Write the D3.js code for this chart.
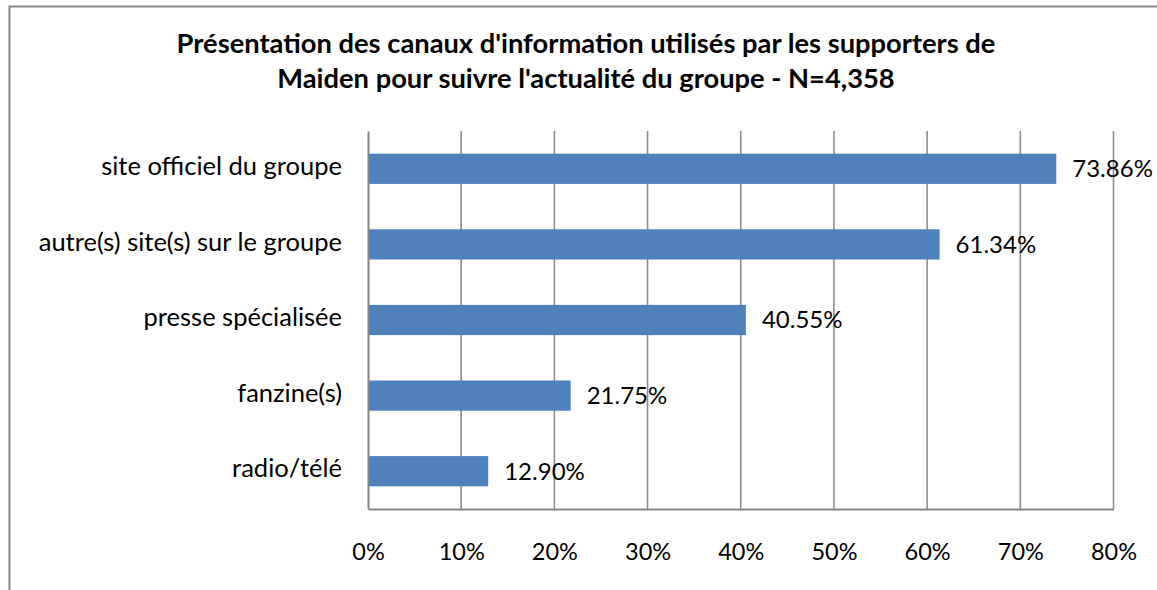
<!DOCTYPE html>
<html>
<head>
<meta charset="utf-8">
<script src="https://cdn.jsdelivr.net/npm/d3@7"></script>
<style>
  html, body { margin: 0; padding: 0; background: #fff; }
  svg { display: block; }
  text { font-family: Lato, "Open Sans", sans-serif; fill: #000; }
</style>
</head>
<body>
<svg id="chart" width="1157" height="590"></svg>
<script>
const categories = ["site officiel du groupe", "autre(s) site(s) sur le groupe", "presse spécialisée", "fanzine(s)", "radio/télé"];
const values = [73.86, 61.34, 40.55, 21.75, 12.90];
const tickValues = [0, 10, 20, 30, 40, 50, 60, 70, 80];
const titleLines = ["Présentation des canaux d'information utilisés par les supporters de", "Maiden pour suivre l'actualité du groupe - N=4,358"];

const svg = d3.select("#chart");
const plot = { left: 368, right: 1113.5, top: 131, bottom: 509 };

// chart border (extends beyond the visible area)
svg.append("rect")
  .attr("x", 9.5).attr("y", 6.5)
  .attr("width", 1200).attr("height", 700)
  .attr("fill", "#fff").attr("stroke", "#868686").attr("stroke-width", 2);

const x = d3.scaleLinear().domain([0, 80]).range([plot.left, plot.right]);
const y = d3.scaleBand().domain(categories).range([plot.top, plot.bottom]).paddingInner(0.6).paddingOuter(0.3);

// title
svg.append("text")
  .attr("x", 586).attr("y", 53)
  .attr("text-anchor", "middle")
  .attr("font-weight", "bold")
  .attr("font-size", 27.3)
  .selectAll("tspan").data(titleLines).join("tspan")
  .attr("x", 586).attr("dy", (d, i) => i === 0 ? 0 : 35)
  .text(d => d);

// gridlines
svg.append("g")
  .selectAll("line").data(tickValues.filter(d => d > 0)).join("line")
  .attr("x1", d => x(d)).attr("x2", d => x(d))
  .attr("y1", plot.top).attr("y2", plot.bottom)
  .attr("stroke", "#8c8c8c").attr("stroke-width", 1.6);

// bars
svg.append("g")
  .selectAll("rect").data(values).join("rect")
  .attr("x", x(0))
  .attr("y", (d, i) => y(categories[i]))
  .attr("width", d => x(d) - x(0))
  .attr("height", y.bandwidth())
  .attr("fill", "#4F81BD");

// axes
const xAxis = d3.axisBottom(x).tickValues(tickValues).tickSize(0).tickPadding(34).tickFormat(d => d + "%");
const gx = svg.append("g").attr("transform", `translate(0,${plot.bottom})`).call(xAxis);
gx.select(".domain").attr("stroke", "#868686").attr("stroke-width", 2);
gx.selectAll("text").attr("font-size", 23.5).attr("font-family", "Lato, sans-serif").attr("fill", "#000");

const yAxis = d3.axisLeft(y).tickSize(0).tickPadding(26);
const gy = svg.append("g").attr("transform", `translate(${plot.left},0)`).call(yAxis);
gy.select(".domain").attr("stroke", "#868686").attr("stroke-width", 2);
gy.selectAll("text").attr("font-size", 25.5).attr("font-family", "Lato, sans-serif").attr("fill", "#000")
  .attr("dy", "0.24em");

// value labels
svg.append("g")
  .selectAll("text").data(values).join("text")
  .attr("x", d => x(d) + 16)
  .attr("y", (d, i) => y(categories[i]) + y.bandwidth() / 2)
  .attr("dy", "0.35em")
  .attr("font-size", 24)
  .text(d => d.toFixed(2) + "%");
</script>
</body>
</html>
